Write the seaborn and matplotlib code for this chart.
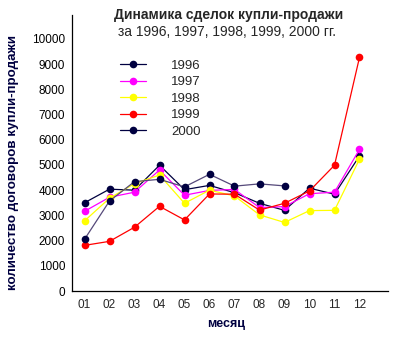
import matplotlib
matplotlib.use("Agg")
import matplotlib.pyplot as plt
import pandas as pd
import seaborn as sns

months = ["01", "02", "03", "04", "05", "06", "07", "08", "09", "10", "11", "12"]
years = ["1996", "1997", "1998", "1999", "2000"]
y1996 = [3500, 4040, 4000, 4990, 4020, 4190, 3900, 3480, 3200, 4080, 3840, 5360]
y1997 = [3160, 3720, 3920, 4800, 3800, 3990, 4030, 3310, 3350, 3860, 3920, 5620]
y1998 = [2780, 3680, 4260, 4600, 3480, 4000, 3770, 3020, 2720, 3190, 3200, 5230]
y1999 = [1810, 1970, 2530, 3360, 2820, 3850, 3840, 3210, 3480, 3970, 4990, 9270]
y2000 = [2050, 3570, 4340, 4430, 4130, 4630, 4160, 4250, 4170]

colors = {"1996": "#000040", "1997": "#ff00ff", "1998": "#ffff00",
          "1999": "#ff0000", "2000": "#000040"}

rows = []
for yr, vals in zip(years, [y1996, y1997, y1998, y1999, y2000]):
    for i, v in enumerate(vals):
        rows.append({"pos": i, "value": v, "year": yr})
df = pd.DataFrame(rows)

sns.set_style("white")
plt.rcParams["font.family"] = ["Liberation Sans", "DejaVu Sans"]

fig = plt.figure(figsize=(4.0, 3.4), dpi=100)
ax = fig.add_axes([72 / 400, 1 - 291 / 340, (388 - 72) / 400, (291 - 15) / 340])

sns.lineplot(data=df, x="pos", y="value", hue="year", hue_order=years,
             palette=colors, marker="o", markersize=5.5, markeredgewidth=0,
             linewidth=0.9, ax=ax, legend=True)

handles, labels = ax.get_legend_handles_labels()
leg = ax.legend(handles, labels, loc="upper left", bbox_to_anchor=(0.135, 0.858),
                frameon=False, fontsize=9.5, handlelength=2.0, handletextpad=1.9,
                labelspacing=0.33, borderaxespad=0)

# the 2000 series is drawn with a greyish-violet line and navy points
for line in ax.lines:
    if len(line.get_xdata()) == len(y2000):
        line.set_color("#55497a")
        line.set_markerfacecolor("#000040")
        line.set_markeredgecolor("#000040")

ax.set_xlim(-0.5, 12.14)
ax.set_ylim(0, 10950)
ax.set_yticks(range(0, 10001, 1000))
ax.set_yticklabels([str(v) for v in range(0, 10001, 1000)], fontsize=8.5)
ax.set_xticks([i + 0.5 for i in range(12)])
ax.set_xticklabels([])
for i, m in enumerate(months):
    ax.text(i, -0.028, m, transform=ax.get_xaxis_transform(),
            ha="center", va="top", fontsize=8.5)
ax.tick_params(axis="both", direction="inout", length=6, width=0.8,
               colors="black", pad=2)
for side in ("top", "right"):
    ax.spines[side].set_visible(False)
for side in ("left", "bottom"):
    ax.spines[side].set_color("black")
    ax.spines[side].set_linewidth(0.9)

ax.set_xlabel("")
ax.set_ylabel("")
fig.text(226 / 400, 1 - 324 / 340, "месяц", ha="center", va="center",
         fontsize=9, fontweight="bold", color="#000040")
fig.text(13 / 400, 1 - 162 / 340, "количество договоров купли-продажи",
         rotation=90, ha="center", va="center", fontsize=9.6,
         fontweight="bold", color="#000040")
fig.text(229 / 400, 1 - 15 / 340, "Динамика сделок купли-продажи",
         ha="center", va="center", fontsize=10, fontweight="bold")
fig.text(227 / 400, 1 - 32 / 340, "за 1996, 1997, 1998, 1999, 2000 гг.",
         ha="center", va="center", fontsize=10)

fig.savefig("out.png", dpi=100, facecolor="white")
